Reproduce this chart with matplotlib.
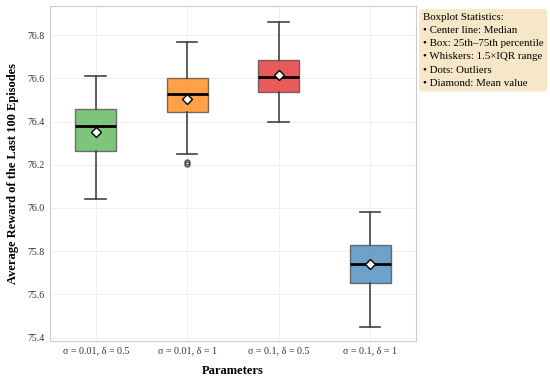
import numpy as np
import matplotlib
matplotlib.use("Agg")
import matplotlib.pyplot as plt

# values
labels = ['σ = 0.01, δ = 0.5', 'σ = 0.01, δ = 1', 'σ = 0.1, δ = 0.5', 'σ = 0.1, δ = 1']
whislo = [76.04, 76.25, 76.40, 75.45]
q1 = [76.265, 76.445, 76.535, 75.655]
med = [76.38, 76.525, 76.605, 75.74]
q3 = [76.46, 76.60, 76.685, 75.83]
whishi = [76.61, 76.77, 76.86, 75.98]
means = [76.35, 76.505, 76.615, 75.74]
fliers = [[], [76.212, 76.202], [], []]
colors = ['#4daf4a', '#ff7f00', '#e41a1c', '#377eb8']

plt.rcParams['font.family'] = ['Liberation Serif', 'DejaVu Serif']

stats = []
for i in range(len(labels)):
    stats.append({'label': labels[i], 'whislo': whislo[i], 'q1': q1[i], 'med': med[i],
                  'q3': q3[i], 'whishi': whishi[i], 'mean': means[i], 'fliers': fliers[i]})

fig = plt.figure(figsize=(5.5, 3.78), dpi=100)
ax = fig.add_axes([0.091, 0.098, 0.665, 0.886])

bp = ax.bxp(stats, positions=range(len(labels)), widths=0.45, patch_artist=True,
            showmeans=True,
            boxprops=dict(edgecolor='#444444', linewidth=1.0),
            medianprops=dict(color='black', linewidth=2.0),
            whiskerprops=dict(color='#444444', linewidth=1.2),
            capprops=dict(color='#444444', linewidth=1.2),
            flierprops=dict(marker='o', markersize=3.5, markerfacecolor='none',
                            markeredgecolor='#444444', markeredgewidth=1.0),
            meanprops=dict(marker='D', markersize=5, markerfacecolor='white',
                           markeredgecolor='black', markeredgewidth=1.0))
for patch, c in zip(bp['boxes'], colors):
    patch.set_facecolor(c)
    patch.set_alpha(0.72)
    patch.set_edgecolor('#444444')

ax.set_xlim(-0.5, 3.5)
ax.set_ylim(75.385, 76.934)
ax.set_yticks([75.4, 75.6, 75.8, 76.0, 76.2, 76.4, 76.6, 76.8])
ax.set_xticks(range(len(labels)))
ax.set_xticklabels(labels)
ax.tick_params(labelsize=7.2, length=0, colors='#333333', pad=4)
ax.grid(True, color='#eeeeee', linewidth=0.6)
ax.set_axisbelow(True)
for s in ax.spines.values():
    s.set_color('#cccccc')

ax.set_xlabel('Parameters', fontsize=9, fontweight='bold', labelpad=7)
ax.set_ylabel('Average Reward of the Last 100 Episodes', fontsize=9, fontweight='bold', labelpad=6)

info = ('Boxplot Statistics:\n• Center line: Median\n• Box: 25th–75th percentile\n'
        '• Whiskers: 1.5×IQR range\n• Dots: Outliers\n• Diamond: Mean value')
fig.text(0.769, 0.966, info, fontsize=7.8, va='top', ha='left', linespacing=1.6,
         bbox=dict(boxstyle='round,pad=0.35', facecolor='wheat', alpha=0.7, edgecolor='none'))

fig.savefig('out.png', dpi=100)
